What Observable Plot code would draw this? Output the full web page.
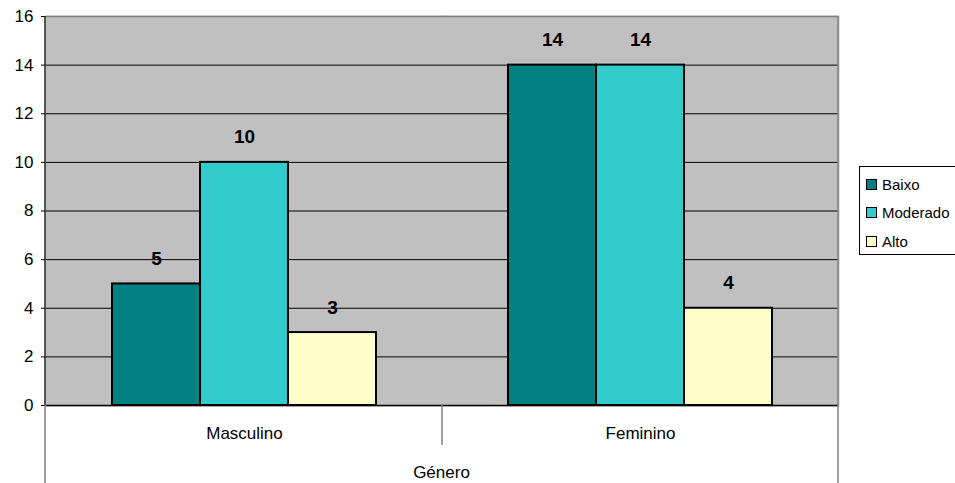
<!DOCTYPE html>
<html><head><meta charset="utf-8">
<script src="https://cdn.jsdelivr.net/npm/d3@7"></script>
<script src="https://cdn.jsdelivr.net/npm/@observablehq/plot@0.6"></script>
<style>
body{margin:0;background:#fff;font-family:"Liberation Sans",Arial,sans-serif;}
#wrap{position:relative;width:955px;height:483px;overflow:hidden;}
#legend{position:absolute;left:859px;top:166px;width:110px;height:89px;border:1px solid #000;background:#fff;box-sizing:border-box;}
.item{position:absolute;left:6px;height:18px;display:flex;align-items:center;font-size:15px;color:#000;}
.sw{width:9px;height:9px;border:1.5px solid #000;margin-right:5px;}
</style></head>
<body><div id="wrap"></div>
<script>
const categories = ["Masculino", "Feminino"];
const series = ["Baixo", "Moderado", "Alto"];
const baixo = [5, 14];
const moderado = [10, 14];
const alto = [3, 4];
const seriesColors = ["#008080", "#33CCCC", "#FFFFCC"];
const yTicks = [0, 2, 4, 6, 8, 10, 12, 14, 16];
const xTitle = "Género";

const values = [baixo, moderado, alto];
const data = [];
categories.forEach((c, i) => series.forEach((s, j) => data.push({category: c, series: s, value: values[j][i]})));

const plot = Plot.plot({
  width: 955, height: 483,
  marginLeft: 45, marginRight: 117, marginTop: 16, marginBottom: 78,
  style: {fontFamily: "'Liberation Sans', Arial, sans-serif", fontSize: "17px", color: "#000", background: "transparent"},
  facet: {data, x: "category"},
  fx: {domain: categories, padding: 0, axis: "bottom", tickSize: 0, tickPadding: 21, label: null},
  x: {domain: series, paddingInner: 0, paddingOuter: 0.745, axis: null},
  y: {domain: [0, 16], ticks: yTicks, tickSize: 5, tickPadding: 8, label: null},
  color: {domain: series, range: seriesColors},
  marks: [
    Plot.frame({fill: "#C0C0C0", stroke: "#C0C0C0", strokeWidth: 2}),
    Plot.ruleY(yTicks.filter(t => t > 0 && t < 16), {stroke: "#000", strokeWidth: 1}),
    Plot.ruleY([16], {stroke: "#808080", strokeWidth: 1.5}),
    Plot.barY(data, {x: "series", y: "value", fill: "series", stroke: "#000", strokeWidth: 2}),
    Plot.text(data, {x: "series", y: "value", text: d => String(d.value), dy: -25, fontSize: 19, fontWeight: "bold", fill: "#000"}),
    Plot.ruleY([0], {stroke: "#000", strokeWidth: 1.5})
  ]
});

const wrap = document.getElementById("wrap");
wrap.appendChild(plot);

// structural lines (axis line, table lines under the axis) and axis title
const fx = plot.scale("fx");
const ys = plot.scale("y");
const [left, right] = fx.range;
const y0 = ys.apply(0), yTop = ys.apply(16);
const mid = fx.apply(categories[1]);
const svg = d3.select(plot);
const g = svg.append("g");
g.append("line").attr("x1", left).attr("x2", left).attr("y1", yTop).attr("y2", y0).attr("stroke", "#222").attr("stroke-width", 1.5);
g.append("line").attr("x1", left).attr("x2", left).attr("y1", y0).attr("y2", 483).attr("stroke", "#808080").attr("stroke-width", 1.5);
g.append("line").attr("x1", right).attr("x2", right).attr("y1", yTop).attr("y2", 483).attr("stroke", "#808080").attr("stroke-width", 1.5);
g.append("line").attr("x1", mid).attr("x2", mid).attr("y1", y0).attr("y2", y0 + 40).attr("stroke", "#808080").attr("stroke-width", 1.5);
g.append("text").attr("x", (left + right) / 2).attr("y", y0 + 73).attr("text-anchor", "middle")
  .attr("font-size", 17).attr("fill", "#000").text(xTitle);

// legend
const legend = document.createElement("div");
legend.id = "legend";
series.forEach((s, i) => {
  const it = document.createElement("div");
  it.className = "item";
  it.style.top = (8 + i * 28.5) + "px";
  const sw = document.createElement("span");
  sw.className = "sw";
  sw.style.background = seriesColors[i];
  it.appendChild(sw);
  it.appendChild(document.createTextNode(s));
  legend.appendChild(it);
});
wrap.appendChild(legend);
</script>
</body></html>
